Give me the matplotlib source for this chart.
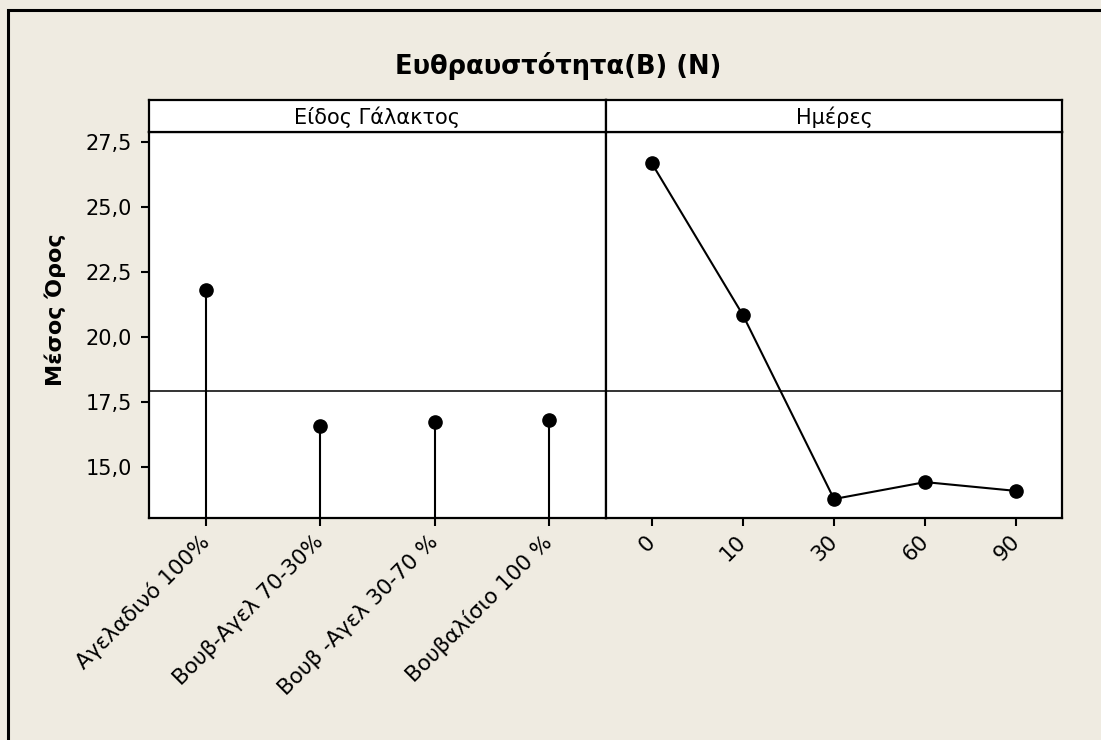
import numpy as np
import matplotlib.pyplot as plt
from matplotlib.patches import Rectangle

# Main effects data: mean brittleness per factor level
milk_types = ["Αγελαδινό 100%", "Βουβ-Αγελ 70-30%", "Βουβ -Αγελ 30-70 %", "Βουβαλίσιο 100 %"]
milk_means = [21.81, 16.58, 16.73, 16.81]

days = ["0", "10", "30", "60", "90"]
days_means = [26.69, 20.85, 13.77, 14.42, 14.08]

y_ticks = [15.0, 17.5, 20.0, 22.5, 25.0, 27.5]
grand_mean = 17.93

bg = "#EFEBE1"
fig = plt.figure(figsize=(11.01, 7.40), dpi=100, facecolor=bg)

# outer frame
fig.patches.append(Rectangle((8 / 1101, -0.1), 1.2, 1 - 10 / 740 + 0.1, transform=fig.transFigure,
                             fill=False, edgecolor="black", linewidth=2.2))

L, M, R = 149 / 1101, 606 / 1101, 1062 / 1101
B, T, H = 1 - 518 / 740, 1 - 132 / 740, 1 - 100 / 740
ylim = (13.04, 27.88)

ax1 = fig.add_axes([L, B, M - L, T - B])
ax2 = fig.add_axes([M, B, R - M, T - B], sharey=ax1)

for ax in (ax1, ax2):
    ax.set_facecolor("white")
    for sp in ax.spines.values():
        sp.set_linewidth(1.6)
    ax.axhline(grand_mean, color="#333333", linewidth=1.4, zorder=1)
    ax.tick_params(axis="x", length=6, width=1.5, pad=9, labelsize=15.5)
    ax.tick_params(axis="y", length=6, width=1.5, pad=6, labelsize=15)

# milk type: stems from the bottom of the axis
x1 = np.arange(1, len(milk_types) + 1)
ax1.vlines(x1, ylim[0], milk_means, color="black", linewidth=1.5, zorder=2)
ax1.plot(x1, milk_means, "o", color="black", markersize=9.5, zorder=3)
ax1.set_xlim(0.5, len(milk_types) + 0.5)
ax1.set_xticks(x1)
ax1.set_xticklabels(milk_types, rotation=45, ha="right", va="center", rotation_mode="anchor")
ax1.set_ylim(*ylim)
ax1.set_yticks(y_ticks)
ax1.set_yticklabels([f"{v:.1f}".replace(".", ",") for v in y_ticks])

# days: connected line
x2 = np.arange(1, len(days) + 1)
ax2.plot(x2, days_means, "-o", color="black", linewidth=1.5, markersize=9.5, zorder=3)
ax2.set_xlim(0.5, len(days) + 0.5)
ax2.set_xticks(x2)
ax2.set_xticklabels(days, rotation=45, ha="right", va="center", rotation_mode="anchor")
ax2.tick_params(axis="y", left=False, labelleft=False)

# panel header strips
for left, width, label in [(L, M - L, "Είδος Γάλακτος"), (M, R - M, "Ημέρες")]:
    hax = fig.add_axes([left, T, width, H - T])
    hax.set_facecolor("white")
    hax.set_xticks([])
    hax.set_yticks([])
    for sp in hax.spines.values():
        sp.set_linewidth(1.6)
    hax.text(0.5, 0.45, label, ha="center", va="center", fontsize=15, transform=hax.transAxes)

fig.text(558 / 1101, 1 - 66 / 740, "Ευθραυστότητα(B) (N)", ha="center", va="center",
         fontsize=18.5, fontweight="bold")
fig.text(55 / 1101, 1 - 310 / 740, "Μέσος Όρος", ha="center", va="center", rotation=90,
         fontsize=16, fontweight="bold")

fig.savefig("out.png", dpi=100, facecolor=bg)
